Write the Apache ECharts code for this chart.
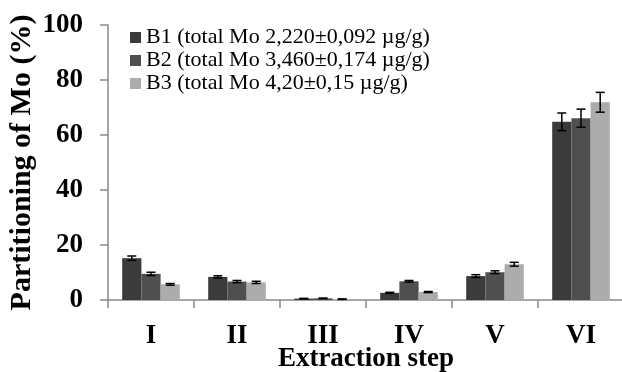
<!DOCTYPE html>
<html>
<head>
<meta charset="utf-8">
<script src="https://cdn.jsdelivr.net/npm/echarts@6/dist/echarts.min.js"></script>
<style>html,body{margin:0;padding:0;background:#fff;}#c{width:622px;height:372px;}</style>
</head>
<body>
<div id="c"></div>
<script>
var categories = ['I', 'II', 'III', 'IV', 'V', 'VI'];
var seriesNames = ['B1 (total Mo 2,220\u00b10,092 \u00b5g/g)', 'B2 (total Mo 3,460\u00b10,174 \u00b5g/g)', 'B3 (total Mo 4,20\u00b10,15 \u00b5g/g)'];
var b1 = [15.2, 8.4, 0.5, 2.6, 8.7, 64.8];
var b2 = [9.5, 6.7, 0.6, 6.8, 10.1, 66.1];
var b3 = [5.7, 6.4, 0.3, 2.9, 13.0, 71.9];
var b1err = [0.8, 0.4, 0.1, 0.2, 0.5, 3.2];
var b2err = [0.6, 0.4, 0.1, 0.3, 0.5, 3.3];
var b3err = [0.3, 0.4, 0.1, 0.2, 0.7, 3.6];
var yTicks = [0, 20, 40, 60, 80, 100];
var colors = ['#3b3b3b', '#4f4f4f', '#acacac'];

var values = [b1, b2, b3];
var errs = [b1err, b2err, b3err];
var gapRatio = 0.33;
var font = '"Liberation Serif", "Times New Roman", serif';

function errSeries(k) {
  var data = values[k].map(function (v, i) { return [i, v, errs[k][i]]; });
  return {
    type: 'custom',
    z: 10,
    silent: true,
    data: data,
    renderItem: function (params, api) {
      var ci = api.value(0), v = api.value(1), e = api.value(2);
      var band = api.size([1, 0])[0];
      var bw = band * (1 - gapRatio) / 3;
      var c = api.coord([ci, v]);
      var x = c[0] + (k - 1) * bw;
      var yHi = api.coord([ci, v + e])[1];
      var yLo = api.coord([ci, v - e])[1];
      var cap = 4.5;
      var st = { stroke: '#000', lineWidth: 1.5 };
      return { type: 'group', children: [
        { type: 'line', shape: { x1: x, y1: yHi, x2: x, y2: yLo }, style: st },
        { type: 'line', shape: { x1: x - cap, y1: yHi, x2: x + cap, y2: yHi }, style: st },
        { type: 'line', shape: { x1: x - cap, y1: yLo, x2: x + cap, y2: yLo }, style: st }
      ] };
    }
  };
}

var series = [];
for (var k = 0; k < 3; k++) {
  series.push({
    name: seriesNames[k],
    type: 'bar',
    data: values[k],
    barGap: '0%',
    barCategoryGap: (gapRatio * 100) + '%',
    itemStyle: { color: colors[k] }
  });
}
for (var k2 = 0; k2 < 3; k2++) series.push(errSeries(k2));

var chart = echarts.init(document.getElementById('c'), null, { renderer: 'canvas' });
chart.setOption({
  animation: false,
  backgroundColor: '#fff',
  color: colors,
  grid: { left: 108, top: 25, width: 516, height: 275, containLabel: false, outerBoundsMode: 'none' },
  legend: {
    orient: 'vertical',
    left: 125,
    top: 21,
    itemWidth: 11,
    itemHeight: 11,
    itemGap: 0,
    data: seriesNames,
    icon: 'rect',
    textStyle: { fontFamily: font, fontSize: 22, color: '#000', lineHeight: 23 }
  },
  xAxis: {
    type: 'category',
    data: categories,
    name: 'Extraction step',
    nameLocation: 'middle',
    nameGap: 46,
    nameMoveOverlap: false,
    nameTextStyle: { fontFamily: font, fontSize: 27, fontWeight: 'bold', color: '#000' },
    axisLine: { lineStyle: { color: '#8a8a8a', width: 1.5 } },
    axisTick: { show: true, length: 8, lineStyle: { color: '#8a8a8a', width: 1.5 } },
    axisLabel: { fontFamily: font, fontSize: 27, fontWeight: 'bold', color: '#000', margin: 23 }
  },
  yAxis: {
    type: 'value',
    min: yTicks[0],
    max: yTicks[yTicks.length - 1],
    interval: 20,
    name: 'Partitioning of Mo (%)',
    nameLocation: 'middle',
    nameGap: 71,
    nameMoveOverlap: false,
    nameRotate: 90,
    nameTextStyle: { fontFamily: font, fontSize: 30, fontWeight: 'bold', color: '#000' },
    axisLine: { show: true, lineStyle: { color: '#8a8a8a', width: 1.5 } },
    axisTick: { show: true, length: 8, lineStyle: { color: '#8a8a8a', width: 1.5 } },
    splitLine: { show: false },
    axisLabel: { fontFamily: font, fontSize: 27, fontWeight: 'bold', color: '#000', margin: 25 }
  },
  series: series
});
</script>
</body>
</html>
